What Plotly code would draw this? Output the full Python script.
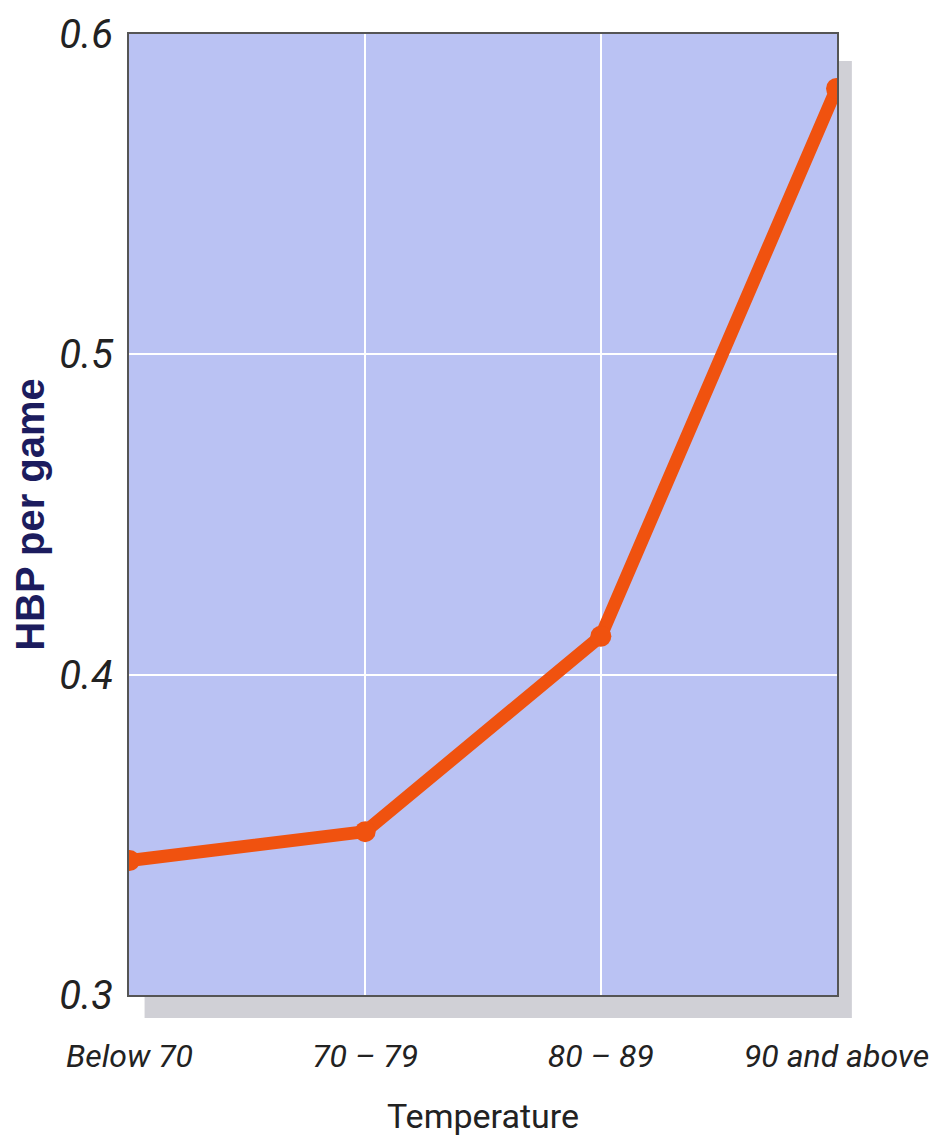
import plotly.graph_objects as go

categories = ["Below 70", "70 – 79", "80 – 89", "90 and above"]
hbp_per_game = [0.342, 0.351, 0.412, 0.583]
y_ticks = [0.3, 0.4, 0.5, 0.6]
y_tick_labels = ["0.3", "0.4", "0.5", "0.6"]

tickfamily = "Roboto, Liberation Sans Narrow, DejaVu Sans Condensed, sans-serif"

fig = go.Figure()
fig.add_trace(go.Scatter(
    x=list(range(len(categories))), y=hbp_per_game,
    mode="lines+markers",
    line=dict(color="#f0520f", width=13),
    marker=dict(color="#f0520f", size=21),
    showlegend=False,
))

# drop shadow behind plot area, then the lavender plot background
fig.add_shape(type="rect", xref="paper", yref="paper",
              x0=0.022, x1=1.021, y0=-0.024, y1=0.972,
              fillcolor="#d0d0d6", line=dict(width=0), layer="below")
fig.add_shape(type="rect", xref="paper", yref="paper",
              x0=0, x1=1, y0=0, y1=1,
              fillcolor="#bac2f3", line=dict(width=0), layer="below")

fig.update_layout(
    width=932, height=1140,
    margin=dict(l=121, r=103, t=26, b=153),
    paper_bgcolor="white",
    plot_bgcolor="rgba(0,0,0,0)",
    xaxis=dict(
        automargin=False,
        range=[-0.002, 3.002], tickmode="array",
        tickvals=list(range(len(categories))), ticktext=categories,
        tickfont=dict(family=tickfamily, size=32, color="#222", style="italic"),
        ticks="outside", ticklen=32, tickcolor="rgba(0,0,0,0)",
        showgrid=True, gridcolor="white", gridwidth=2,
        showline=True, linecolor="#555", linewidth=2, mirror=True,
        zeroline=False,
        title=dict(text="Temperature", standoff=30,
                   font=dict(family=tickfamily, size=34, color="#222")),
    ),
    yaxis=dict(
        automargin=False,
        range=[0.3, 0.6], tickmode="array",
        tickvals=y_ticks, ticktext=y_tick_labels,
        tickfont=dict(family=tickfamily, size=40, color="#222", style="italic"),
        ticks="outside", ticklen=6, tickcolor="rgba(0,0,0,0)",
        showgrid=True, gridcolor="white", gridwidth=2,
        showline=True, linecolor="#555", linewidth=2, mirror=True,
        zeroline=False,
        title=dict(text="<b>HBP per game</b>", standoff=24,
                   font=dict(family="Liberation Sans, Arial, sans-serif", size=40, color="#1c1c5e")),
    ),
)

fig.write_html("out.html")
